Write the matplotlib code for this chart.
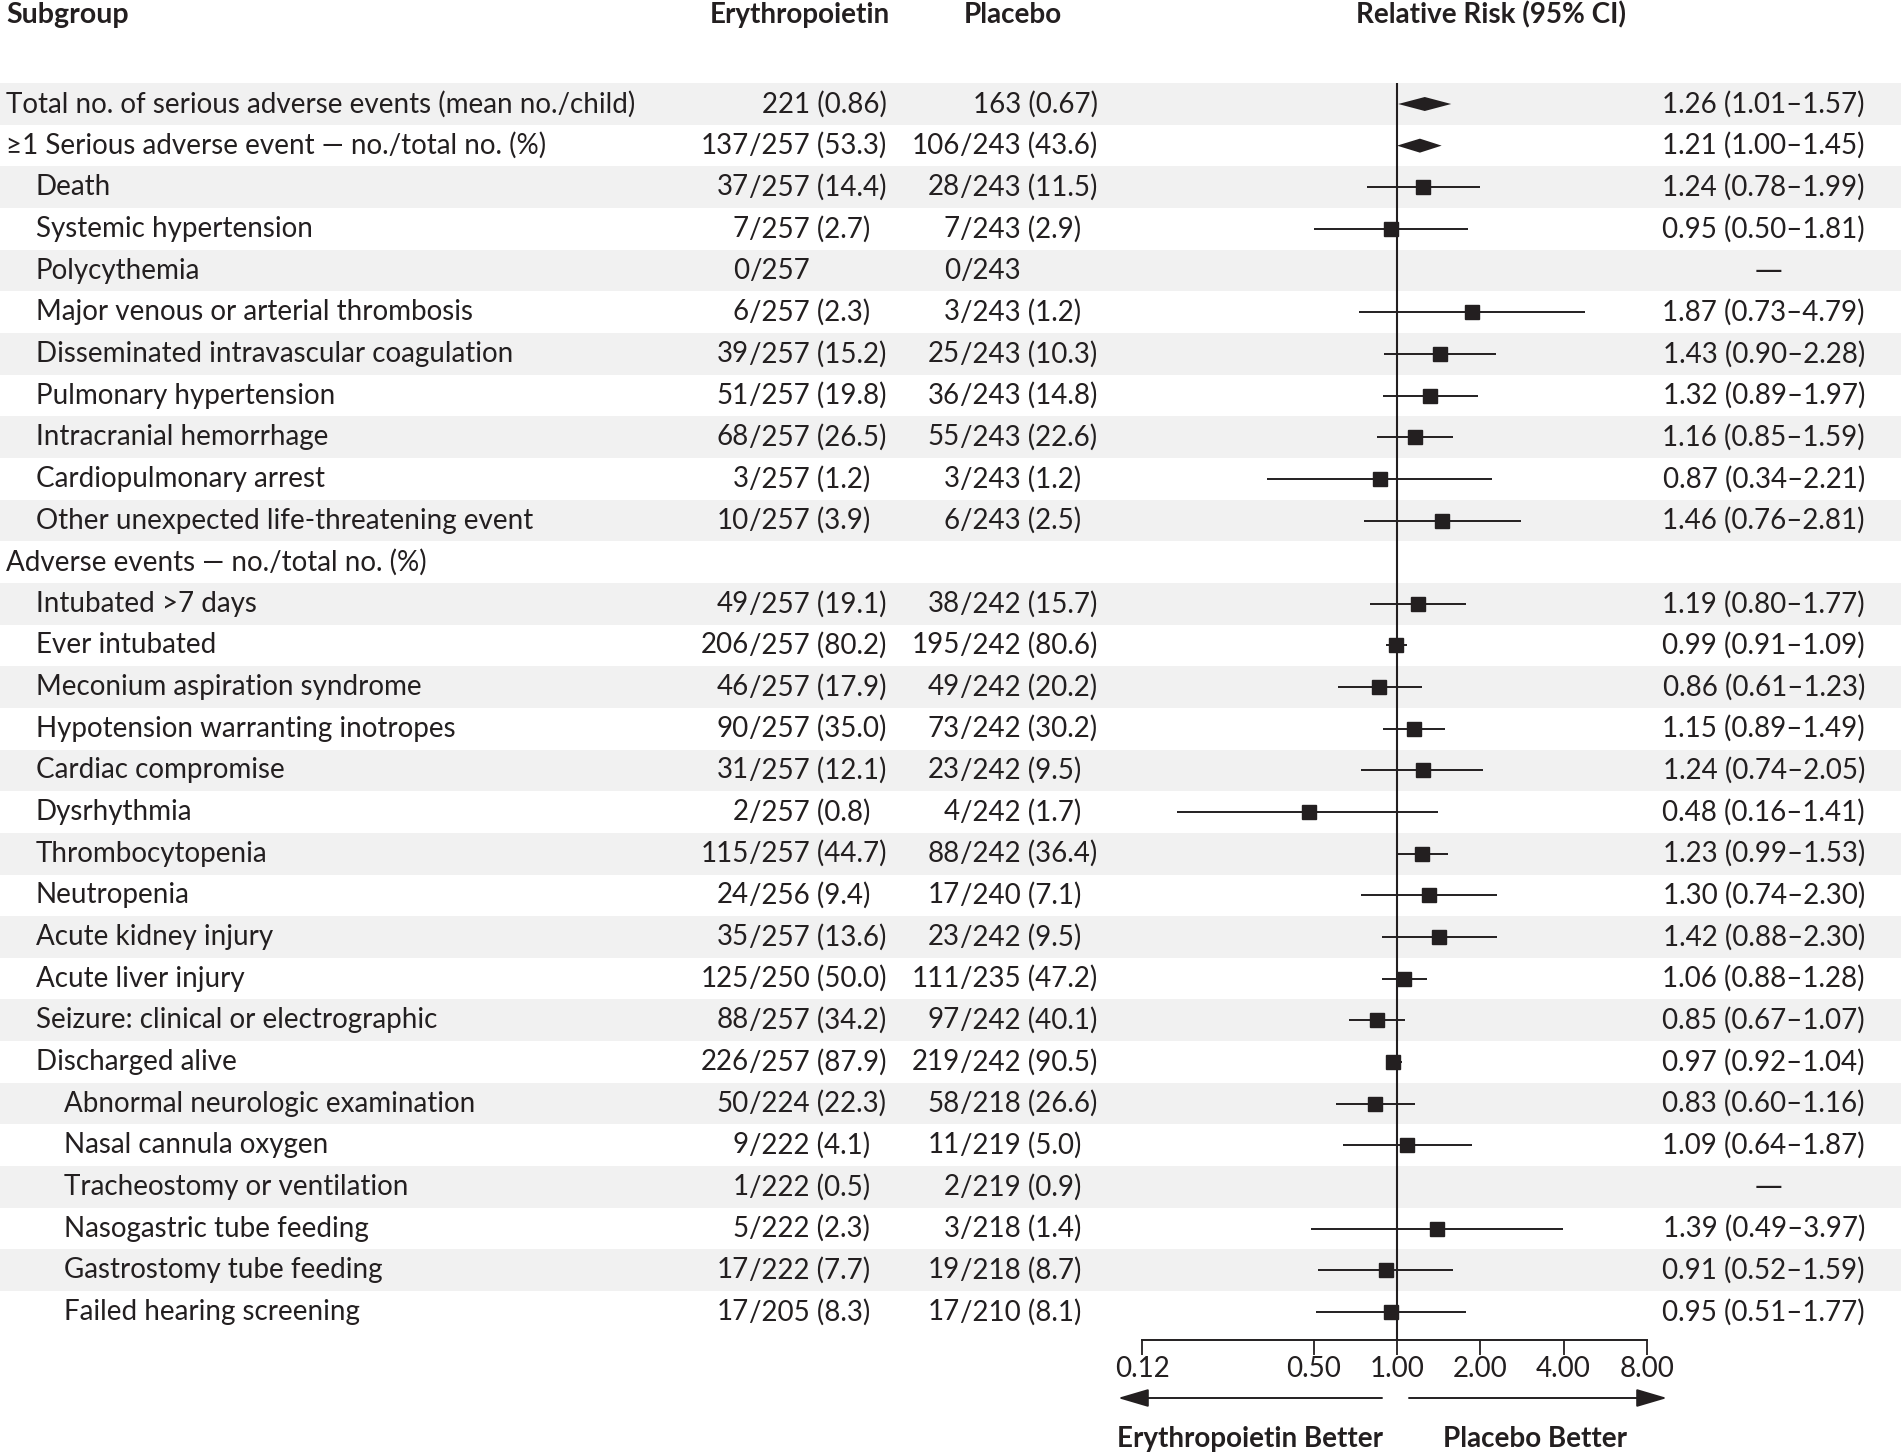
import numpy as np
import matplotlib.pyplot as plt

plt.rcParams['font.family'] = ['Lato', 'DejaVu Sans']

# data
labels = [
    "Total no. of serious adverse events (mean no./child)",
    "\u22651 Serious adverse event \u2014 no./total no. (%)",
    "Death", "Systemic hypertension", "Polycythemia",
    "Major venous or arterial thrombosis", "Disseminated intravascular coagulation",
    "Pulmonary hypertension", "Intracranial hemorrhage", "Cardiopulmonary arrest",
    "Other unexpected life-threatening event",
    "Adverse events \u2014 no./total no. (%)",
    "Intubated >7 days", "Ever intubated", "Meconium aspiration syndrome",
    "Hypotension warranting inotropes", "Cardiac compromise", "Dysrhythmia",
    "Thrombocytopenia", "Neutropenia", "Acute kidney injury", "Acute liver injury",
    "Seizure: clinical or electrographic", "Discharged alive",
    "Abnormal neurologic examination", "Nasal cannula oxygen",
    "Tracheostomy or ventilation", "Nasogastric tube feeding",
    "Gastrostomy tube feeding", "Failed hearing screening",
]
levels = [0, 0, 1, 1, 1, 1, 1, 1, 1, 1, 1, 0, 1, 1, 1, 1, 1, 1, 1, 1, 1, 1, 1, 1,
          2, 2, 2, 2, 2, 2]

epo = ["221 (0.86)", "137/257 (53.3)", "37/257 (14.4)", "7/257 (2.7)", "0/257",
       "6/257 (2.3)", "39/257 (15.2)", "51/257 (19.8)", "68/257 (26.5)", "3/257 (1.2)",
       "10/257 (3.9)", "", "49/257 (19.1)", "206/257 (80.2)", "46/257 (17.9)",
       "90/257 (35.0)", "31/257 (12.1)", "2/257 (0.8)", "115/257 (44.7)", "24/256 (9.4)",
       "35/257 (13.6)", "125/250 (50.0)", "88/257 (34.2)", "226/257 (87.9)",
       "50/224 (22.3)", "9/222 (4.1)", "1/222 (0.5)", "5/222 (2.3)", "17/222 (7.7)",
       "17/205 (8.3)"]
placebo = ["163 (0.67)", "106/243 (43.6)", "28/243 (11.5)", "7/243 (2.9)", "0/243",
           "3/243 (1.2)", "25/243 (10.3)", "36/243 (14.8)", "55/243 (22.6)", "3/243 (1.2)",
           "6/243 (2.5)", "", "38/242 (15.7)", "195/242 (80.6)", "49/242 (20.2)",
           "73/242 (30.2)", "23/242 (9.5)", "4/242 (1.7)", "88/242 (36.4)", "17/240 (7.1)",
           "23/242 (9.5)", "111/235 (47.2)", "97/242 (40.1)", "219/242 (90.5)",
           "58/218 (26.6)", "11/219 (5.0)", "2/219 (0.9)", "3/218 (1.4)", "19/218 (8.7)",
           "17/210 (8.1)"]

rr = [1.26, 1.21, 1.24, 0.95, None, 1.87, 1.43, 1.32, 1.16, 0.87, 1.46, None,
      1.19, 0.99, 0.86, 1.15, 1.24, 0.48, 1.23, 1.30, 1.42, 1.06, 0.85, 0.97,
      0.83, 1.09, None, 1.39, 0.91, 0.95]
lo = [1.01, 1.00, 0.78, 0.50, None, 0.73, 0.90, 0.89, 0.85, 0.34, 0.76, None,
      0.80, 0.91, 0.61, 0.89, 0.74, 0.16, 0.99, 0.74, 0.88, 0.88, 0.67, 0.92,
      0.60, 0.64, None, 0.49, 0.52, 0.51]
hi = [1.57, 1.45, 1.99, 1.81, None, 4.79, 2.28, 1.97, 1.59, 2.21, 2.81, None,
      1.77, 1.09, 1.23, 1.49, 2.05, 1.41, 1.53, 2.30, 2.30, 1.28, 1.07, 1.04,
      1.16, 1.87, None, 3.97, 1.59, 1.77]
no_estimate = [4, 26]     # rows shown with a dash
diamond_rows = [0, 1]

ticks = [0.12, 0.5, 1, 2, 4, 8]
tick_labels = ["0.12", "0.50", "1.00", "2.00", "4.00", "8.00"]

# layout (pixels of a 1901x1456 canvas)
W, H = 1901, 1456
row0, pitch = 104, 41.65
ytop = -row0 / pitch
ybot = (H - row0) / pitch
def prow(px):
    return (px - row0) / pitch

ink = "#231f20"
fs = 20

fig = plt.figure(figsize=(W / 100, H / 100), dpi=100)
ax = fig.add_axes([0, 0, 1, 1])
ax.set_xlim(0, W)
ax.set_ylim(ybot, ytop)
ax.axis('off')

n = len(labels)
for i in range(0, n, 2):
    ax.axhspan(i - 0.5, i + 0.5, color="#f1f1f1", lw=0, zorder=0)

# headers
hy = prow(15)
ax.text(6, hy, "Subgroup", fontsize=fs + 0.5, fontweight='bold', ha='left', va='center', color=ink)
ax.text(800, hy, "Erythropoietin", fontsize=fs, fontweight='bold', ha='center', va='center', color=ink)
ax.text(1013, hy, "Placebo", fontsize=fs, fontweight='bold', ha='center', va='center', color=ink)
ax.text(1491, hy, "Relative Risk (95% CI)", fontsize=fs, fontweight='bold', ha='center', va='center', color=ink)

indent = [6, 36, 64]
def put_count(s, x_slash, x_right, y):
    if not s:
        return
    if "/" in s:
        a, b = s.split("/", 1)
        ax.text(x_slash, y, a, fontsize=fs, ha='right', va='center', color=ink)
        ax.text(x_slash, y, "/" + b, fontsize=fs, ha='left', va='center', color=ink)
    else:
        ax.text(x_right, y, s, fontsize=fs, ha='right', va='center', color=ink)

for i in range(n):
    ax.text(indent[levels[i]], i, labels[i], fontsize=fs, ha='left', va='center', color=ink)
    put_count(epo[i], 749, 887, i)
    put_count(placebo[i], 960, 1098, i)
    if rr[i] is not None:
        ax.text(1865, i, "%.2f (%.2f\u2013%.2f)" % (rr[i], lo[i], hi[i]),
                fontsize=fs, ha='right', va='center', color=ink)
    elif i in no_estimate:
        ax.text(1768, i, "\u2014", fontsize=fs, ha='center', va='center', color=ink,
                family='DejaVu Sans')

# forest panel on a log scale
x0 = 1397            # pixel of RR = 1
per2 = 83.3          # pixels per doubling
left_px, right_px = 1100, 1700
axf = fig.add_axes([left_px / W, 0, (right_px - left_px) / W, 1])
axf.set_xscale('log', base=2)
axf.set_xlim(2 ** ((left_px - x0) / per2), 2 ** ((right_px - x0) / per2))
axf.set_ylim(ybot, ytop)
axf.patch.set_alpha(0)
for s in ['top', 'left', 'right']:
    axf.spines[s].set_visible(False)
axis_y = prow(1340)
axf.spines['bottom'].set_position(('data', axis_y))
axf.spines['bottom'].set_bounds(ticks[0], ticks[-1])
axf.spines['bottom'].set_linewidth(1.4)
axf.spines['bottom'].set_color(ink)
axf.set_xticks(ticks)
axf.set_xticklabels(tick_labels)
axf.minorticks_off()
axf.tick_params(axis='x', direction='out', length=10.5, width=1.3, pad=1,
                labelsize=fs, colors=ink)
axf.set_yticks([])

axf.vlines(1, -0.5, axis_y, color=ink, lw=1.5, zorder=2)

for i in range(n):
    if rr[i] is None:
        continue
    if i in diamond_rows:
        h = 7 / pitch
        axf.fill([lo[i], rr[i], hi[i], rr[i]], [i, i - h, i, i + h],
                 color=ink, lw=0, zorder=3)
    else:
        axf.hlines(i, lo[i], hi[i], color=ink, lw=1.4, zorder=3)
        axf.plot(rr[i], i, marker='s', ms=10, color=ink, mec=ink, zorder=4)

# direction arrows
ay = prow(1398)
arrow = dict(arrowstyle='-|>,head_length=0.95,head_width=0.28', color=ink, lw=1.4,
             mutation_scale=20, shrinkA=0, shrinkB=0)
axf.annotate("", xy=(2 ** ((1118 - x0) / per2), ay), xytext=(2 ** ((1382 - x0) / per2), ay),
             arrowprops=arrow, annotation_clip=False)
axf.annotate("", xy=(2 ** ((1667 - x0) / per2), ay), xytext=(2 ** ((1409 - x0) / per2), ay),
             arrowprops=arrow, annotation_clip=False)

by = prow(1439)
ax.text(1250, by, "Erythropoietin Better", fontsize=fs, fontweight='bold', ha='center', va='center', color=ink)
ax.text(1535, by, "Placebo Better", fontsize=fs, fontweight='bold', ha='center', va='center', color=ink)

fig.savefig("out.png", dpi=100)
